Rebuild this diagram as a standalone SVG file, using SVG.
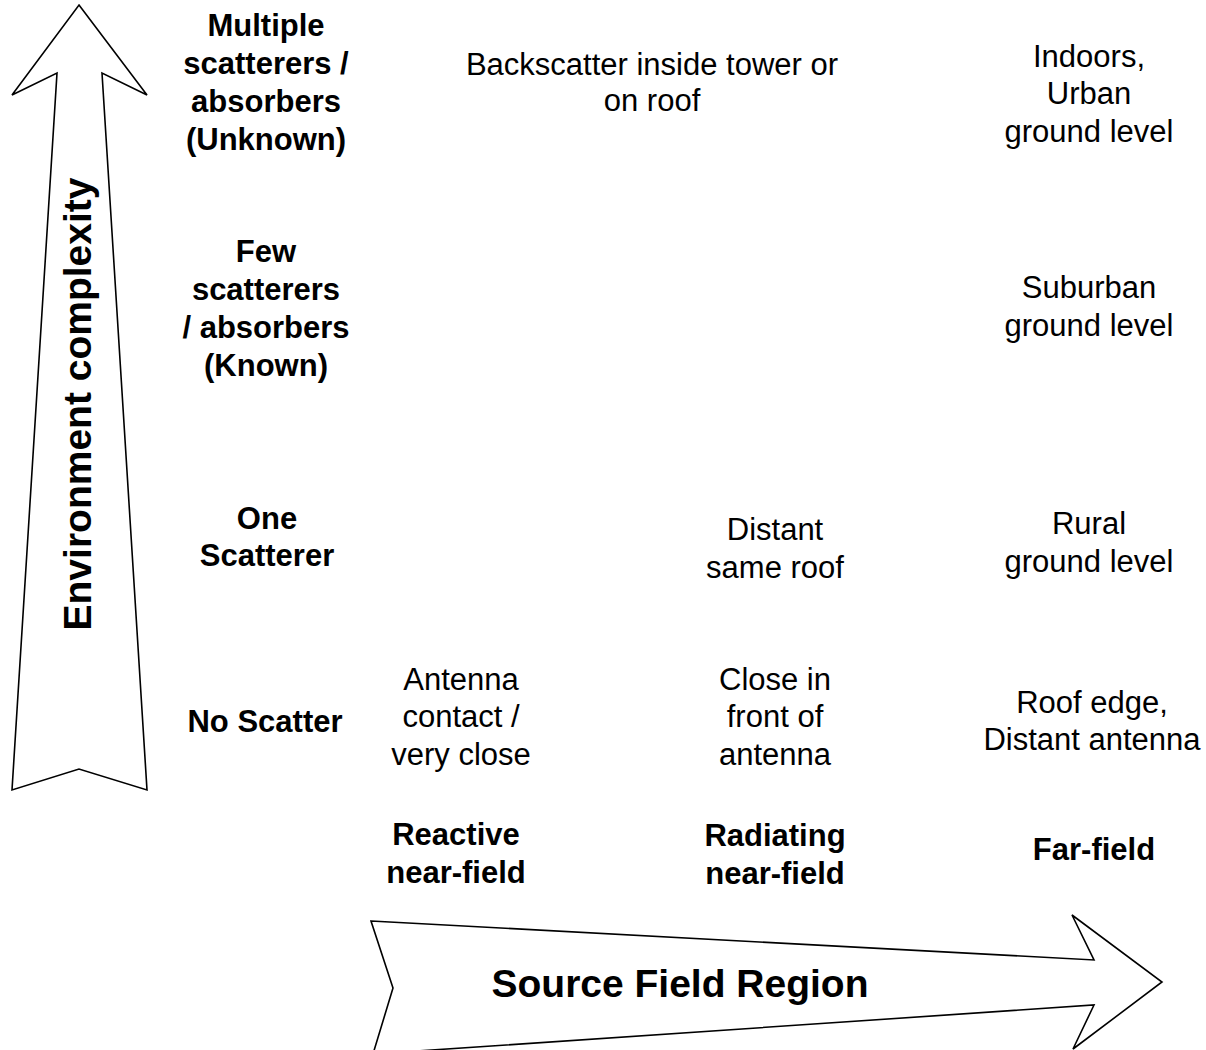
<svg xmlns="http://www.w3.org/2000/svg" width="1206" height="1050" viewBox="0 0 1206 1050">
<style>
.arrow{fill:#fff;stroke:#000;stroke-width:1.6;stroke-linejoin:miter}
text{font-family:"Liberation Sans",Arial,sans-serif;font-size:31px;fill:#000;text-anchor:middle}
.b{font-weight:bold}
.big{font-weight:bold;font-size:39px}
</style>
<rect width="1206" height="1050" fill="#fff"/>
<g id="connectors">
<polygon id="axis-y" class="arrow" points="79,5 147,95 102,73 147,790 79,769 12,790 57,73 12,95"/>
<polygon id="axis-x" class="arrow" points="371,921 1094,960 1072,915 1162,982 1073,1049 1094,1005 373,1054 393,988"/>
</g>
<g id="label-env"><text class="big" transform="translate(91,404) rotate(-90)">Environment complexity</text></g>
<g id="label-source"><text class="big" x="680" y="997">Source Field Region</text></g>
<g id="row-multiple"><text class="b" x="266" y="36">Multiple</text><text class="b" x="266" y="74">scatterers /</text><text class="b" x="266" y="112">absorbers</text><text class="b" x="266" y="150">(Unknown)</text></g>
<g id="row-few"><text class="b" x="266" y="262">Few</text><text class="b" x="266" y="300">scatterers</text><text class="b" x="266" y="338">/ absorbers</text><text class="b" x="266" y="376">(Known)</text></g>
<g id="row-one"><text class="b" x="267" y="529">One</text><text class="b" x="267" y="566">Scatterer</text></g>
<g id="row-none"><text class="b" x="265" y="732">No Scatter</text></g>
<g id="col-reactive"><text class="b" x="456" y="845">Reactive</text><text class="b" x="456" y="883">near-field</text></g>
<g id="col-radiating"><text class="b" x="775" y="846">Radiating</text><text class="b" x="775" y="884">near-field</text></g>
<g id="col-far"><text class="b" x="1094" y="860">Far-field</text></g>
<g id="cell-backscatter"><text x="652" y="75">Backscatter inside tower or</text><text x="652" y="111">on roof</text></g>
<g id="cell-indoors"><text x="1089" y="67">Indoors,</text><text x="1089" y="104">Urban</text><text x="1089" y="142">ground level</text></g>
<g id="cell-suburban"><text x="1089" y="298">Suburban</text><text x="1089" y="336">ground level</text></g>
<g id="cell-rural"><text x="1089" y="534">Rural</text><text x="1089" y="572">ground level</text></g>
<g id="cell-distant-roof"><text x="775" y="540">Distant</text><text x="775" y="578">same roof</text></g>
<g id="cell-antenna-contact"><text x="461" y="690">Antenna</text><text x="461" y="727">contact /</text><text x="461" y="765">very close</text></g>
<g id="cell-close-front"><text x="775" y="690">Close in</text><text x="775" y="727">front of</text><text x="775" y="765">antenna</text></g>
<g id="cell-roof-edge"><text x="1092" y="713">Roof edge,</text><text x="1092" y="750">Distant antenna</text></g>
</svg>
